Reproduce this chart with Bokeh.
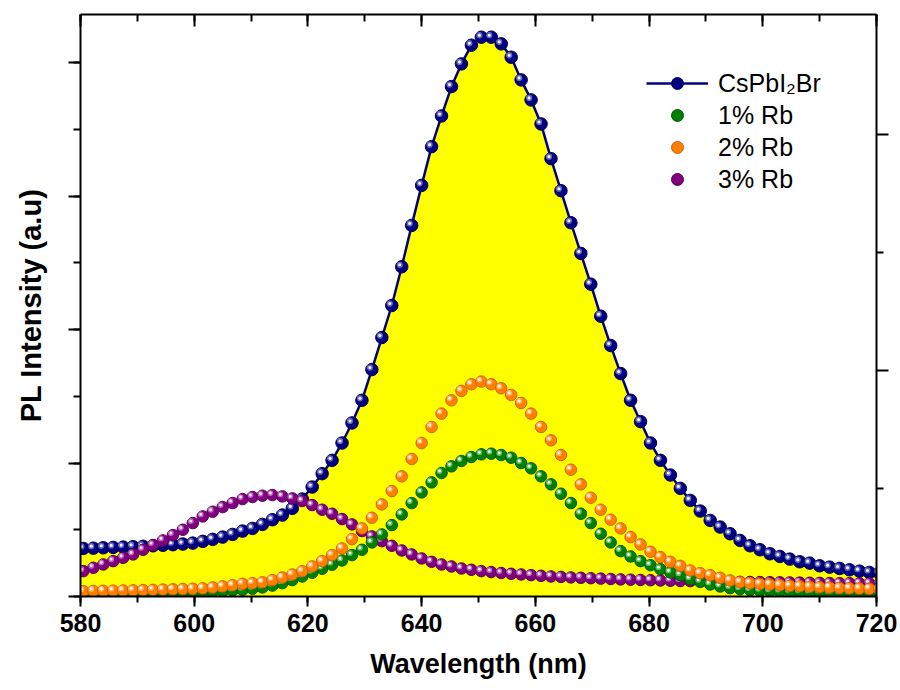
from bokeh.plotting import figure
from bokeh.models import (Range1d, LinearAxis, SingleIntervalTicker, FixedTicker,
                          Legend, LegendItem, CustomJSTickFormatter)
from bokeh.embed import file_html
from bokeh.resources import INLINE

# ---------------- data ----------------
wavelength = [578.75, 580.5, 582.25, 584.0, 585.75, 587.5, 589.25, 591.0, 592.75, 594.5,
              596.25, 598.0, 599.75, 601.5, 603.25, 605.0, 606.75, 608.5, 610.25, 612.0,
              613.75, 615.5, 617.25, 619.0, 620.75, 622.5, 624.25, 626.0, 627.75, 629.5,
              631.25, 633.0, 634.75, 636.5, 638.25, 640.0, 641.75, 643.5, 645.25, 647.0,
              648.75, 650.5, 652.25, 654.0, 655.75, 657.5, 659.25, 661.0, 662.75, 664.5,
              666.25, 668.0, 669.75, 671.5, 673.25, 675.0, 676.75, 678.5, 680.25, 682.0,
              683.75, 685.5, 687.25, 689.0, 690.75, 692.5, 694.25, 696.0, 697.75, 699.5,
              701.25, 703.0, 704.75, 706.5, 708.25, 710.0, 711.75, 713.5, 715.25, 717.0,
              718.75, 720.5]

cspbi2br = [0.355, 0.36, 0.362, 0.365, 0.368, 0.37, 0.373, 0.376, 0.38, 0.384,
            0.388, 0.393, 0.40, 0.413, 0.428, 0.445, 0.465, 0.49, 0.51, 0.54,
            0.575, 0.61, 0.66, 0.73, 0.82, 0.92, 1.02, 1.15, 1.30, 1.47,
            1.70, 1.94, 2.18, 2.47, 2.78, 3.08, 3.37, 3.60, 3.82, 3.99,
            4.13, 4.19, 4.19, 4.14, 4.04, 3.87, 3.72, 3.54, 3.28, 3.04,
            2.80, 2.57, 2.34, 2.10, 1.88, 1.67, 1.47, 1.31, 1.15, 1.02,
            0.91, 0.81, 0.72, 0.64, 0.57, 0.52, 0.47, 0.42, 0.38, 0.35,
            0.32, 0.30, 0.28, 0.26, 0.25, 0.23, 0.22, 0.21, 0.20, 0.19,
            0.18, 0.175]

rb1 = [0.02, 0.02, 0.021, 0.021, 0.022, 0.022, 0.023, 0.023, 0.024, 0.025,
       0.026, 0.027, 0.029, 0.032, 0.036, 0.04, 0.045, 0.05, 0.058, 0.068,
       0.082, 0.10, 0.123, 0.15, 0.178, 0.208, 0.238, 0.27, 0.31, 0.35,
       0.405, 0.465, 0.535, 0.615, 0.70, 0.78, 0.855, 0.925, 0.975, 1.015,
       1.045, 1.065, 1.07, 1.06, 1.04, 1.00, 0.96, 0.90, 0.84, 0.77,
       0.70, 0.62, 0.55, 0.47, 0.405, 0.34, 0.30, 0.265, 0.235, 0.205,
       0.18, 0.16, 0.13, 0.11, 0.09, 0.075, 0.063, 0.055, 0.048, 0.043,
       0.04, 0.037, 0.035, 0.033, 0.031, 0.03, 0.029, 0.028, 0.027, 0.026,
       0.025, 0.025]

rb2 = [0.04, 0.04, 0.042, 0.043, 0.044, 0.045, 0.046, 0.048, 0.05, 0.052,
       0.054, 0.056, 0.058, 0.062, 0.068, 0.076, 0.085, 0.095, 0.10, 0.107,
       0.123, 0.142, 0.165, 0.19, 0.225, 0.265, 0.31, 0.36, 0.43, 0.51,
       0.59, 0.69, 0.79, 0.90, 1.03, 1.15, 1.27, 1.37, 1.47, 1.54,
       1.59, 1.61, 1.59, 1.56, 1.51, 1.45, 1.37, 1.27, 1.17, 1.06,
       0.95, 0.84, 0.74, 0.65, 0.575, 0.51, 0.445, 0.39, 0.335, 0.295,
       0.26, 0.23, 0.195, 0.175, 0.16, 0.14, 0.12, 0.107, 0.10, 0.095,
       0.09, 0.085, 0.08, 0.077, 0.073, 0.07, 0.067, 0.064, 0.062, 0.06,
       0.058, 0.057]

rb3 = [0.165, 0.19, 0.215, 0.24, 0.265, 0.29, 0.315, 0.35, 0.385, 0.42,
       0.46, 0.50, 0.55, 0.60, 0.635, 0.67, 0.70, 0.73, 0.745, 0.755,
       0.76, 0.75, 0.735, 0.715, 0.685, 0.65, 0.62, 0.58, 0.54, 0.49,
       0.45, 0.415, 0.38, 0.345, 0.315, 0.285, 0.26, 0.24, 0.225, 0.21,
       0.20, 0.19, 0.183, 0.176, 0.17, 0.165, 0.16, 0.155, 0.15, 0.147,
       0.143, 0.14, 0.137, 0.134, 0.131, 0.128, 0.126, 0.124, 0.122, 0.12,
       0.118, 0.116, 0.115, 0.114, 0.113, 0.112, 0.111, 0.11, 0.109, 0.108,
       0.107, 0.106, 0.105, 0.104, 0.103, 0.102, 0.101, 0.10, 0.10, 0.099,
       0.098, 0.097]

series_names = ["CsPbI₂Br", "1% Rb", "2% Rb", "3% Rb"]
x_ticks_major = 20

# ---------------- figure ----------------
X0, X1 = 580, 720
Y0, Y1 = 0, 4.36
FONT = "Liberation Sans"

p = figure(width=900, height=690, output_backend="svg", toolbar_location=None,
           x_range=Range1d(X0, X1), y_range=Range1d(Y0, Y1),
           min_border_left=80, min_border_right=24, min_border_top=14,
           min_border_bottom=94, x_axis_location=None, y_axis_location=None)
p.xgrid.visible = False
p.ygrid.visible = False
p.outline_line_color = None
p.background_fill_color = "white"

# pixel -> data conversions for the small highlight offset on the glossy balls
px_x = (X1 - X0) / 796.0
px_y = (Y1 - Y0) / 582.0

def glossy(xs, ys, base, edge, hi, size, name, line=None):
    rends = []
    if line is not None:
        rends.append(line)
    r = p.scatter(xs, ys, size=size, fill_color=base, line_color=edge, line_width=1)
    rends.append(r)
    hx = [v - 2.0 * px_x for v in xs]
    hy = [v + 2.0 * px_y for v in ys]
    p.scatter(hx, hy, size=size * 0.5, fill_color=hi, fill_alpha=0.55, line_color=None)
    p.scatter(hx, hy, size=size * 0.25, fill_color="white", fill_alpha=0.9, line_color=None)
    return LegendItem(label=name, renderers=rends)

# yellow area under CsPbI2Br
p.varea(x=wavelength, y1=[0] * len(wavelength), y2=cspbi2br, fill_color="#FFFF00")

ln = p.line(wavelength, cspbi2br, line_color="#000080", line_width=2.5)
it0 = glossy(wavelength, cspbi2br, "#000080", "#00005a", "#b8b8f0", 12.5, series_names[0], line=ln)
it3 = glossy(wavelength, rb3, "#800080", "#5a005a", "#f0b8f0", 11.5, series_names[3])
it1 = glossy(wavelength, rb1, "#008000", "#005a00", "#b8f0b8", 11.5, series_names[1])
it2 = glossy(wavelength, rb2, "#FF8000", "#d06000", "#ffe0b8", 11.5, series_names[2])

legend = Legend(items=[it0, it1, it2, it3], location=(566, 402), orientation="vertical",
                glyph_width=62, glyph_height=30, label_height=30, spacing=2,
                label_standoff=10, padding=0, margin=0,
                label_text_font=FONT, label_text_font_size="25px",
                label_text_color="black", border_line_color=None,
                background_fill_alpha=0)
p.add_layout(legend, "center")

# ---------------- axes ----------------
AX_W = 2
blank = CustomJSTickFormatter(code="return '';")

def style_axis(ax):
    ax.axis_line_color = "black"
    ax.axis_line_width = AX_W
    ax.major_tick_line_color = "black"
    ax.minor_tick_line_color = "black"
    ax.major_tick_line_width = AX_W
    ax.minor_tick_line_width = AX_W

bottom = LinearAxis(ticker=SingleIntervalTicker(interval=x_ticks_major, num_minor_ticks=2))
style_axis(bottom)
bottom.major_tick_out = 10
bottom.major_tick_in = 0
bottom.minor_tick_out = 6
bottom.minor_tick_in = 0
bottom.major_label_text_font = FONT
bottom.major_label_text_font_style = "bold"
bottom.major_label_text_font_size = "25px"
bottom.major_label_text_color = "black"
bottom.major_label_standoff = 7
bottom.axis_label = "Wavelength (nm)"
bottom.axis_label_text_font = FONT
bottom.axis_label_text_font_style = "bold"
bottom.axis_label_text_font_size = "27px"
bottom.axis_label_text_color = "black"
bottom.axis_label_standoff = 14
p.add_layout(bottom, "below")

top = LinearAxis(ticker=SingleIntervalTicker(interval=x_ticks_major, num_minor_ticks=2),
                 formatter=blank)
style_axis(top)
top.major_tick_out = 0
top.major_tick_in = 12
top.minor_tick_out = 0
top.minor_tick_in = 7
top.major_label_standoff = 0
p.add_layout(top, "above")

left = LinearAxis(ticker=SingleIntervalTicker(interval=1, num_minor_ticks=2),
                  formatter=blank)
style_axis(left)
left.major_tick_out = 12
left.major_tick_in = 0
left.minor_tick_out = 7
left.minor_tick_in = 0
left.major_label_standoff = 0
left.axis_label = "PL Intensity (a.u)"
left.axis_label_text_font = FONT
left.axis_label_text_font_style = "bold"
left.axis_label_text_font_size = "29px"
left.axis_label_text_color = "black"
left.axis_label_standoff = 22
p.add_layout(left, "left")

p.extra_y_ranges = {"right": Range1d(0.0424, 2.508)}
right = LinearAxis(y_range_name="right",
                   ticker=FixedTicker(ticks=[1, 2], minor_ticks=[0.5, 1.5]),
                   formatter=blank)
style_axis(right)
right.major_tick_out = 12
right.major_tick_in = 0
right.minor_tick_out = 7
right.minor_tick_in = 0
right.major_label_standoff = 0
p.add_layout(right, "right")

open("out.html", "w").write(file_html(p, INLINE))
